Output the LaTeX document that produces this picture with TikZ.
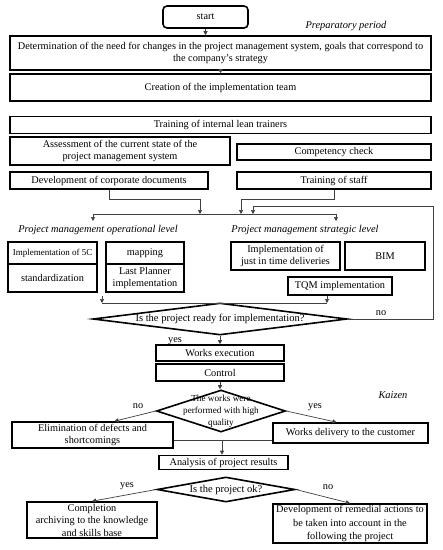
\documentclass[tikz,border=0pt]{standalone}
\usepackage{fontspec}
\setmainfont{Liberation Serif}
\usetikzlibrary{arrows.meta, positioning, shapes.geometric}
\newcommand{\zw}[1]{\makebox[0pt]{#1}}

\begin{document}
\begin{tikzpicture}[
    x=1pt, y=-1pt,
    box/.style={draw, line width=1.6pt, inner sep=0pt, align=center, font=\fontsize{10.3}{12.5}\selectfont},
    dia/.style={draw, diamond, line width=1.6pt, inner sep=0pt, aspect=1, font=\fontsize{10.5}{12}\selectfont},
    lbl/.style={font=\fontsize{10.4}{12}\selectfont\itshape},
    txt/.style={font=\fontsize{10.3}{12}\selectfont},
    line/.style={draw=black!75, line width=0.7pt},
    arr/.style={line, -{Triangle[length=4pt, width=4pt]}}
]
\useasboundingbox (0,0) rectangle (443,550);

\node[box, rounded corners=4pt, minimum width=85, minimum height=22] (start) at (205.5,17) {start};
\node[lbl] (prep) at (346,26) {Preparatory period};
\node[box, minimum width=421, minimum height=34] (need) at (220.5,53) {Determination of the need for changes in the project management system, goals that correspond to\\the company's strategy};
\node[box, minimum width=421, minimum height=27] (team) at (220.5,87.5) {Creation of the implementation team};
\node[box, minimum width=421, minimum height=17] (trainers) at (220.5,125) {Training of internal lean trainers};
\node[box, minimum width=220, minimum height=28] (assess) at (120,151) {Assessment of the current state of the\\project management system};
\node[box, minimum width=194, minimum height=16] (check) at (334,152) {Competency check};
\node[box, minimum width=198, minimum height=17] (docs) at (109,180.5) {Development of corporate documents};
\node[box, minimum width=194, minimum height=17] (staff) at (334,180.5) {Training of staff};

\coordinate (busL) at (93,214);
\coordinate (busR) at (336,214);
\coordinate (in1) at (200,214);
\coordinate (in2) at (241,214);
\coordinate (in3) at (253,214);
\coordinate (loop) at (433,206);
\coordinate (opin) at (93,221);
\coordinate (stin) at (336,221);

\node[lbl] (oplvl) at (98,230) {Project management operational level};
\node[lbl] (stlvl) at (305,230) {Project management strategic level};
\node[box, font=\fontsize{9}{10}\selectfont, minimum width=89, minimum height=22] (fivec) at (52.5,253) {Implementation of 5C};
\node[box, minimum width=89, minimum height=28] (std) at (52.5,278) {standardization};
\node[box, minimum width=78, minimum height=22] (mapping) at (145,253) {mapping};
\node[box, minimum width=78, minimum height=28] (planner) at (145,278) {Last Planner\\implementation};
\node[box, minimum width=109, minimum height=28] (jit) at (285.5,256) {Implementation of\\just in time deliveries};
\node[box, minimum width=80, minimum height=28] (bim) at (385,256) {BIM};
\node[box, minimum width=104, minimum height=18] (tqm) at (340,286) {TQM implementation};

\coordinate (bus2L) at (102,303);
\coordinate (bus2R) at (327,303);
\coordinate (drop) at (102,296);

\node[dia, minimum width=254, minimum height=32] (ready) at (220,319) {\zw{Is the project ready for implementation?}};
\node[txt] (no1) at (381,313) {no};
\node[txt] (yes1) at (175,341) {yes};
\node[box, minimum width=128, minimum height=16] (exec) at (220,353) {Works execution};
\node[box, minimum width=128, minimum height=17] (control) at (220,372.5) {Control};
\node[dia, font=\fontsize{9.2}{12}\selectfont, minimum width=129, minimum height=42] (quality) at (221,411) {\zw{\raisebox{-4pt}{\begin{tabular}{@{}c@{}}The works were\\performed with high\\quality\end{tabular}}}};
\node[lbl] (kaizen) at (393,395) {Kaizen};
\node[txt] (no2) at (138,406) {no};
\node[txt] (yes2) at (315,407) {yes};
\node[box, minimum width=161, minimum height=26] (fix) at (92.5,435) {Elimination of defects and\\shortcomings};
\node[box, minimum width=155, minimum height=20] (deliver) at (350.5,433) {Works delivery to the customer};
\coordinate (merge) at (222,440);
\node[box, minimum width=129, minimum height=14] (analysis) at (223.5,462.5) {Analysis of project results};
\node[dia, minimum width=138, minimum height=25] (ok) at (226,489.5) {\zw{Is the project ok?}};
\node[txt] (yes3) at (127,486) {yes};
\node[txt] (no3) at (328,487) {no};
\node[box, minimum width=130, minimum height=36] (archive) at (92,520) {Completion\\archiving to the knowledge\\and skills base};
\node[box, font=\fontsize{10.3}{13.5}\selectfont, minimum width=154, minimum height=39] (remedy) at (350,523.5) {Development of remedial actions to\\be taken into account in the\\following the project};

\draw[arr] (start) -- (start |- need.north);
\draw[arr] (need) -- (team);
\draw[arr] (docs.south) -- ++(0,10) -| (in1);
\draw[arr] (staff.south) -- ++(0,10) -| (in2);
\draw[arr] (ready.east) -| (loop) -| (in3);
\draw[line] (busL) -- (busR);
\foreach \p/\q in {busL/opin, busR/stin} \draw[arr] (\p) -- (\q);
\draw[line] (bus2L) -- (bus2R);
\draw[arr] (drop) -- (bus2L);
\draw[arr] (tqm.south -| bus2R) -- (bus2R);
\draw[arr] (ready) -- (exec);
\draw[arr] (control) -- (control |- quality.north);
\draw[arr] (quality.west) -- ([xshift=22]fix.north);
\draw[arr] (quality.east) -- ([xshift=-14]deliver.north);
\draw[line] (fix.east |- merge) -- (deliver.west |- merge);
\draw[arr] (merge) -- (merge |- analysis.north);
\draw[arr] (ok.west) -- (archive.north);
\draw[arr] (ok.east) -- (remedy.north);
\end{tikzpicture}
\end{document}
